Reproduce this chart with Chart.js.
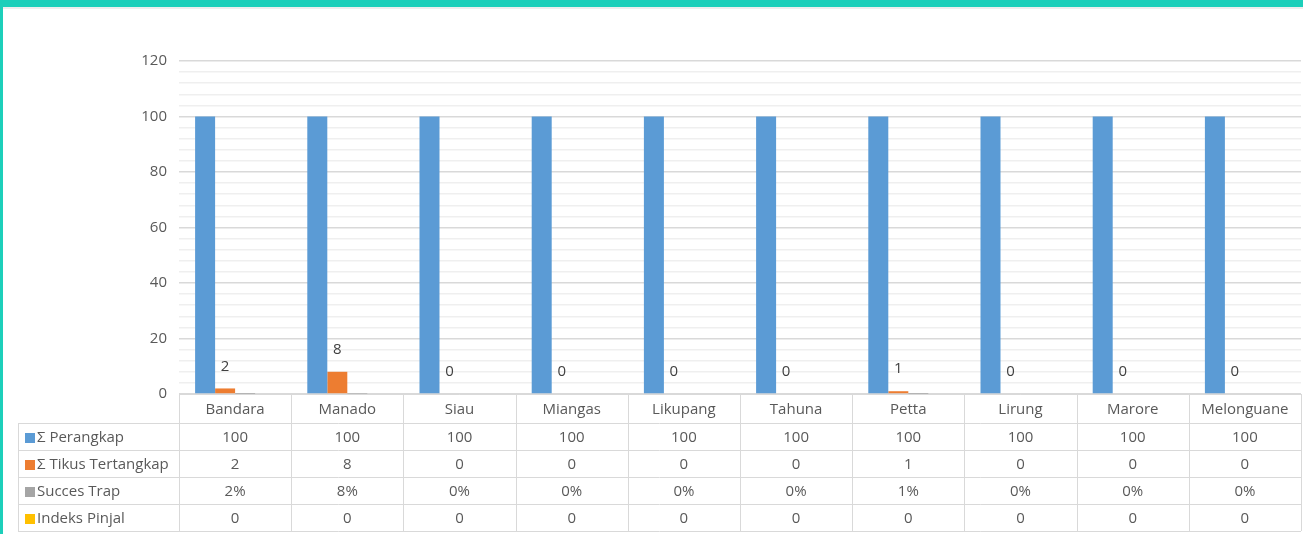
<!DOCTYPE html>
<html>
<head>
<meta charset="utf-8">
<script src="https://cdn.jsdelivr.net/npm/chart.js@4.4.1/dist/chart.umd.min.js"></script>
<style>
  html, body { margin: 0; padding: 0; background: #fff; }
  #wrap { width: 1303px; height: 534px; position: relative; }
</style>
</head>
<body>
<div id="wrap"><canvas id="trapChart" width="1303" height="534"></canvas></div>
<script>
// chart data
const categories = ['Bandara', 'Manado', 'Siau', 'Miangas', 'Likupang', 'Tahuna', 'Petta', 'Lirung', 'Marore', 'Melonguane'];
const seriesNames = ['Σ Perangkap', 'Σ Tikus Tertangkap', 'Succes Trap', 'Indeks Pinjal'];
const perangkap = [100, 100, 100, 100, 100, 100, 100, 100, 100, 100];
const tikusTertangkap = [2, 8, 0, 0, 0, 0, 1, 0, 0, 0];
const successTrap = [0.02, 0.08, 0, 0, 0, 0, 0.01, 0, 0, 0];
const indeksPinjal = [0, 0, 0, 0, 0, 0, 0, 0, 0, 0];
const yMax = 120;
const yMajorStep = 20;
const yMinorStep = 4;

const colors = ['#5b9bd5', '#ed7d31', '#a5a5a5', '#ffc000'];
const textColor = '#595959';
const tableLine = '#d9d9d9';
const fontFamily = '"Open Sans", "Noto Sans", sans-serif';

function fmtCell(row, value) {
  if (row === 2) {
    return Math.round(value * 100) + '%';
  }
  return String(value);
}

// labels above the orange bars
const barLabels = {
  id: 'barLabels',
  afterDatasetsDraw(chart) {
    const ctx = chart.ctx;
    const meta = chart.getDatasetMeta(1);
    ctx.save();
    ctx.font = '15px ' + fontFamily;
    ctx.fillStyle = '#404040';
    ctx.textAlign = 'center';
    ctx.textBaseline = 'middle';
    meta.data.forEach((bar, i) => {
      ctx.fillText(String(tikusTertangkap[i]), bar.x, bar.y - 22);
    });
    ctx.restore();
  }
};

// excel style data table under the plot
const dataTable = {
  id: 'dataTable',
  afterDraw(chart) {
    const ctx = chart.ctx;
    const area = chart.chartArea;
    const x = chart.scales.x;
    const n = categories.length;
    const colW = (area.right - area.left) / n;
    const tableLeft = 18;
    const rowTops = [area.bottom, area.bottom + 29, area.bottom + 56, area.bottom + 83, area.bottom + 110, area.bottom + 137];
    const rows = [perangkap, tikusTertangkap, successTrap, indeksPinjal];

    ctx.save();
    ctx.strokeStyle = tableLine;
    ctx.lineWidth = 1;
    ctx.beginPath();
    // horizontal lines
    rowTops.forEach((y, i) => {
      const from = i === 0 ? area.left : tableLeft;
      ctx.moveTo(from, Math.round(y) + 0.5);
      ctx.lineTo(area.right, Math.round(y) + 0.5);
    });
    // vertical lines
    for (let c = 0; c <= n; c++) {
      const vx = Math.round(area.left + c * colW) + 0.5;
      ctx.moveTo(vx, rowTops[0]);
      ctx.lineTo(vx, rowTops[5]);
    }
    ctx.moveTo(tableLeft + 0.5, rowTops[1]);
    ctx.lineTo(tableLeft + 0.5, rowTops[5]);
    ctx.stroke();

    ctx.font = '15px ' + fontFamily;
    ctx.fillStyle = textColor;
    ctx.textBaseline = 'middle';
    ctx.textAlign = 'center';
    categories.forEach((cat, i) => {
      ctx.fillText(cat, x.getPixelForValue(i), (rowTops[0] + rowTops[1]) / 2 + 1);
    });
    rows.forEach((values, r) => {
      const cy = (rowTops[r + 1] + rowTops[r + 2]) / 2 + 1;
      ctx.textAlign = 'center';
      ctx.fillStyle = textColor;
      values.forEach((v, i) => {
        ctx.fillText(fmtCell(r, v), x.getPixelForValue(i), cy);
      });
      // legend key and series name
      ctx.fillStyle = colors[r];
      ctx.fillRect(25, Math.round(cy) - 5, 10, 10);
      ctx.fillStyle = textColor;
      ctx.textAlign = 'left';
      ctx.fillText(seriesNames[r], 37, cy);
    });

    // teal frame of the picture
    ctx.fillStyle = '#1ccfba';
    ctx.fillRect(0, 0, chart.width, 7);
    ctx.fillRect(0, 0, 3, chart.height);
    ctx.fillStyle = '#eeeeee';
    ctx.fillRect(3, 7, chart.width - 3, 2);
    ctx.restore();
  }
};

new Chart(document.getElementById('trapChart'), {
  type: 'bar',
  data: {
    labels: categories,
    datasets: [
      { label: seriesNames[0], data: perangkap, backgroundColor: colors[0] },
      { label: seriesNames[1], data: tikusTertangkap, backgroundColor: colors[1] },
      { label: seriesNames[2], data: successTrap, backgroundColor: colors[2] },
      { label: seriesNames[3], data: indeksPinjal, backgroundColor: colors[3] }
    ]
  },
  options: {
    responsive: false,
    animation: false,
    layout: {
      padding: { top: 61, bottom: 140, left: 0, right: 2 }
    },
    datasets: {
      bar: {
        categoryPercentage: 0.713,
        barPercentage: 1
      }
    },
    scales: {
      x: {
        display: false
      },
      y: {
        min: 0,
        max: yMax,
        afterFit(scale) {
          scale.width = 179;
        },
        border: { display: false },
        grid: {
          drawTicks: false,
          color: (c) => (c.tick && c.tick.value % yMajorStep === 0 ? '#d9d9d9' : '#efefef'),
          lineWidth: 1.5
        },
        ticks: {
          stepSize: yMinorStep,
          autoSkip: false,
          padding: 12,
          color: textColor,
          font: { family: fontFamily, size: 15 },
          callback: (v) => (v % yMajorStep === 0 ? v : '')
        }
      }
    },
    plugins: {
      legend: { display: false },
      tooltip: { enabled: false }
    }
  },
  plugins: [barLabels, dataTable]
});
</script>
</body>
</html>
